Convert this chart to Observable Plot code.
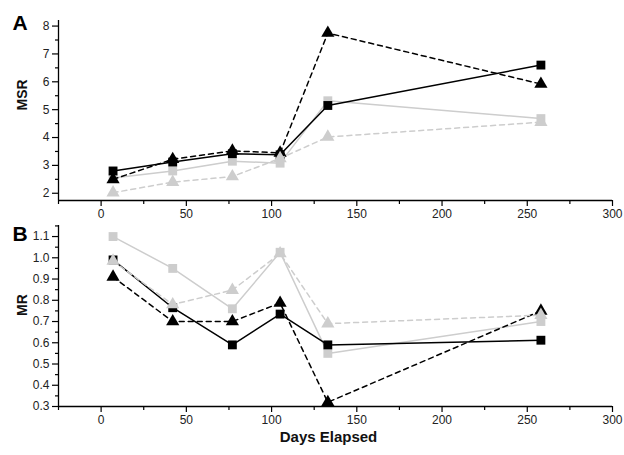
<!DOCTYPE html>
<html><head><meta charset="utf-8">
<script src="https://cdn.jsdelivr.net/npm/d3@7"></script>
<script src="https://cdn.jsdelivr.net/npm/@observablehq/plot@0.6"></script>
<style>
body{margin:0;background:#fff;}
#chart{width:624px;height:455px;overflow:hidden;}
#chart svg{display:block;}
</style>
</head><body><div id="chart"></div>
<script>
// Data
const days = [7, 42, 77, 105, 133, 258];
const msrBlackSq  = [2.8, 3.12, 3.42, 3.38, 5.15, 6.6];
const msrBlackTri = [2.5, 3.22, 3.52, 3.45, 7.75, 5.92];
const msrGraySq   = [2.55, 2.8, 3.15, 3.08, 5.32, 4.68];
const msrGrayTri  = [2.02, 2.4, 2.6, 3.25, 4.02, 4.55];
const mrBlackSq   = [0.99, 0.765, 0.59, 0.735, 0.59, 0.612];
const mrBlackTri  = [0.91, 0.70, 0.70, 0.787, 0.32, 0.75];
const mrGraySq    = [1.10, 0.95, 0.76, 1.026, 0.55, 0.70];
const mrGrayTri   = [0.985, 0.78, 0.848, 1.02, 0.69, 0.73];
const xTicks = [0, 50, 100, 150, 200, 250, 300];
const xMinor = [-25, 25, 75, 125, 175, 225, 275];
const msrTicks = [2, 3, 4, 5, 6, 7, 8];
const msrMinor = [2.5, 3.5, 4.5, 5.5, 6.5, 7.5];
const mrTicks = [0.3, 0.4, 0.5, 0.6, 0.7, 0.8, 0.9, 1.0, 1.1];
const mrMinor = [0.35, 0.45, 0.55, 0.65, 0.75, 0.85, 0.95, 1.05, 1.15];

const BLACK = "#000";
const GRAY = "#cdcdcd";
const font = "Liberation Sans, Arial, Helvetica, sans-serif";

function seriesMarks(values, color, dashed, symbol) {
  const rows = days.map((d, i) => ({day: d, v: values[i]}));
  return [
    Plot.line(rows, {x: "day", y: "v", stroke: color, strokeWidth: 1.5,
      strokeDasharray: dashed ? "5,4" : null}),
    Plot.dot(rows, {x: "day", y: "v", symbol, r: symbol === "square" ? 5 : 4.9,
      fill: color, stroke: "none"})
  ];
}

function panel({height, marginTop, marginBottom, yDomain, yTicks, yMinor, yFmt, series, label, letter, letterDy, xLabel}) {
  const marks = [
    Plot.ruleX([-25], {stroke: "#000", strokeWidth: 1.3}),
    Plot.ruleY([yDomain[0]], {stroke: "#000", strokeWidth: 1.3}),
    Plot.axisY(yTicks, {anchor: "left", tickSize: 6, tickPadding: 3, tickFormat: yFmt, label: null,
      fontSize: 12, fill: "#222", strokeWidth: 1.2}),
    Plot.axisY(yMinor, {anchor: "left", tickSize: 3, tickFormat: () => "", label: null, strokeWidth: 1.2}),
    Plot.axisX(xTicks, {anchor: "bottom", tickSize: 6, tickPadding: 3, label: null,
      fontSize: 12, fill: "#222", strokeWidth: 1.2}),
    Plot.axisX(xMinor, {anchor: "bottom", tickSize: 4, tickFormat: () => "", label: null, strokeWidth: 1.2}),
    Plot.text([label], {frameAnchor: "left", rotate: -90, dx: -36, text: d => d,
      fontWeight: "bold", fontSize: 14, fill: "#111"}),
    Plot.text([letter], {frameAnchor: "top-left", dx: -46, dy: letterDy, text: d => d,
      fontWeight: "bold", fontSize: 21, fill: "#000"})
  ];
  if (xLabel) {
    marks.push(Plot.text([xLabel], {frameAnchor: "bottom", dx: -7, dy: 35, text: d => d,
      fontWeight: "bold", fontSize: 15, fill: "#111"}));
  }
  for (const s of series) marks.push(...seriesMarks(...s));
  return Plot.plot({
    width: 624, height,
    marginLeft: 58, marginRight: 12, marginTop, marginBottom,
    x: {domain: [-25, 300]},
    y: {domain: yDomain},
    style: {fontFamily: font, fontSize: "12px", background: "#fff", overflow: "visible"},
    marks
  });
}

const chart = document.getElementById("chart");
chart.appendChild(panel({
  height: 220, marginTop: 20, marginBottom: 20,
  yDomain: [1.74, 8.2], yTicks: msrTicks, yMinor: msrMinor, yFmt: d3.format("d"),
  label: "MSR", letter: "A", letterDy: -5,
  series: [
    [msrGraySq, GRAY, false, "square"],
    [msrBlackSq, BLACK, false, "square"],
    [msrBlackTri, BLACK, true, "triangle"],
    [msrGrayTri, GRAY, true, "triangle"]
  ]
}));
chart.appendChild(panel({
  height: 235, marginTop: 5, marginBottom: 49,
  yDomain: [0.3, 1.152], yTicks: mrTicks, yMinor: mrMinor, yFmt: d3.format(".1f"),
  label: "MR", letter: "B", letterDy: 1, xLabel: "Days Elapsed",
  series: [
    [mrGraySq, GRAY, false, "square"],
    [mrBlackSq, BLACK, false, "square"],
    [mrBlackTri, BLACK, true, "triangle"],
    [mrGrayTri, GRAY, true, "triangle"]
  ]
}));
</script>
</body></html>
